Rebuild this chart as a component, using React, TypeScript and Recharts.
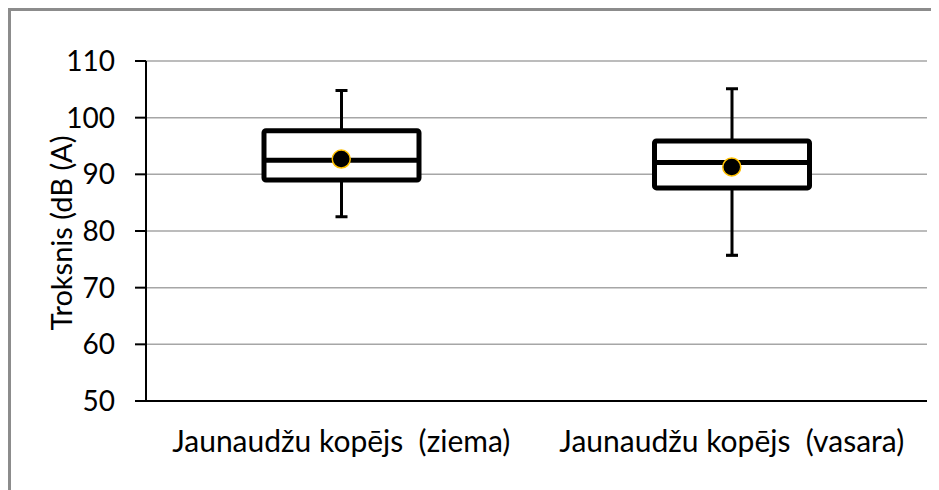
import React from 'react';
import { ComposedChart, Bar, Scatter, XAxis, YAxis, CartesianGrid } from 'recharts';

// Noise level box plot (dB(A)) for two seasons
const categories = ['Jaunaudžu kopējs\u00a0 (ziema)', 'Jaunaudžu kopējs\u00a0 (vasara)'];
const minValues = [82.5, 75.7];
const q1Values = [89.0, 87.6];
const medianValues = [92.5, 92.1];
const q3Values = [97.7, 95.9];
const maxValues = [104.8, 105.1];
const meanValues = [92.7, 91.3];
const yTicks = [50, 60, 70, 80, 90, 100, 110];
const boundaryTicks = [0, 1, 2];

const data = categories.map((name, i) => ({
  name,
  min: minValues[i],
  q1: q1Values[i],
  median: medianValues[i],
  q3: q3Values[i],
  max: maxValues[i],
  mean: meanValues[i],
}));

const FONT = 'Lato, "DejaVu Sans", sans-serif';

const BoxShape = (props: any) => {
  const { x, y, width, height, payload } = props;
  const top = Math.min(y, y + height);
  const h = Math.abs(height);
  const ppu = h / (payload.q3 - payload.q1);
  const cx = x + width / 2;
  const yMax = top - (payload.max - payload.q3) * ppu;
  const yMin = top + h + (payload.q1 - payload.min) * ppu;
  const yMed = top + (payload.q3 - payload.median) * ppu;
  return (
    <g>
      <line x1={cx} x2={cx} y1={yMax} y2={top} stroke="#000" strokeWidth={3} />
      <line x1={cx} x2={cx} y1={top + h} y2={yMin} stroke="#000" strokeWidth={3} />
      <line x1={cx - 6} x2={cx + 6} y1={yMax} y2={yMax} stroke="#000" strokeWidth={3} />
      <line x1={cx - 6} x2={cx + 6} y1={yMin} y2={yMin} stroke="#000" strokeWidth={3} />
      <rect x={x} y={top} width={width} height={h} fill="#fff" stroke="#000" strokeWidth={5} rx={2} strokeLinejoin="round" />
      <line x1={x} x2={x + width} y1={yMed} y2={yMed} stroke="#000" strokeWidth={5} />
    </g>
  );
};

const MeanDot = (props: any) => (
  <circle cx={props.cx} cy={props.cy} r={9} fill="#000" stroke="#FFC000" strokeWidth={1.5} />
);

const CategoryTick = (props: any) => {
  const { x, y, payload } = props;
  return (
    <text x={x} y={y + 50} textAnchor="middle" fill="#000" fontSize={30} fontFamily={FONT}>
      {payload.value}
    </text>
  );
};

const YLabel = (props: any) => {
  const vb = props.viewBox || { x: 0, y: 0, width: 0, height: 0 };
  const cx = vb.x + 61;
  const cy = vb.y + vb.height / 2 + 2;
  return (
    <text x={cx} y={cy} transform={`rotate(-90, ${cx}, ${cy})`} textAnchor="middle" fill="#000" fontSize={29} fontFamily={FONT}>
      Troksnis (dB (A)
    </text>
  );
};

const App: React.FC = () => {
  return (
    <div
      style={{
        width: 928,
        height: 479,
        borderLeft: '3px solid #8c8c8c',
        borderTop: '3px solid #8c8c8c',
        fontFamily: FONT,
        background: '#fff',
      }}
    >
      <ComposedChart width={928} height={479} data={data} margin={{ top: 50, right: 12, left: 0, bottom: 0 }}>
        <CartesianGrid xAxisId="bCat" vertical={false} stroke="#a6a6a6" strokeWidth={1.5} />
        <XAxis
          xAxisId="aNum"
          type="number"
          domain={[0, 2]}
          ticks={boundaryTicks}
          allowDataOverflow
          height={1}
          tick={false}
          tickSize={9}
          axisLine={{ stroke: '#000', strokeWidth: 2 }}
          tickLine={{ stroke: '#000', strokeWidth: 2 }}
        />
        <XAxis
          xAxisId="bCat"
          dataKey="name"
          height={88}
          axisLine={false}
          tickLine={false}
          tickSize={0}
          tickMargin={0}
          interval={0}
          tick={<CategoryTick />}
        />
        <YAxis
          domain={[50, 110]}
          ticks={yTicks}
          allowDataOverflow
          interval={0}
          width={135}
          tickSize={11}
          tickMargin={20}
          axisLine={{ stroke: '#000', strokeWidth: 2 }}
          tickLine={{ stroke: '#000', strokeWidth: 2 }}
          tick={{ fill: '#000', fontSize: 28, fontFamily: FONT }}
          label={{ content: (p: any) => <YLabel {...p} /> }}
        />
        <Bar
          xAxisId="bCat"
          dataKey={(d: any) => [d.q1, d.q3]}
          barSize={155}
          shape={<BoxShape />}
          isAnimationActive={false}
        />
        <Scatter xAxisId="bCat" dataKey="mean" shape={<MeanDot />} isAnimationActive={false} />
      </ComposedChart>
    </div>
  );
};

export default App;
